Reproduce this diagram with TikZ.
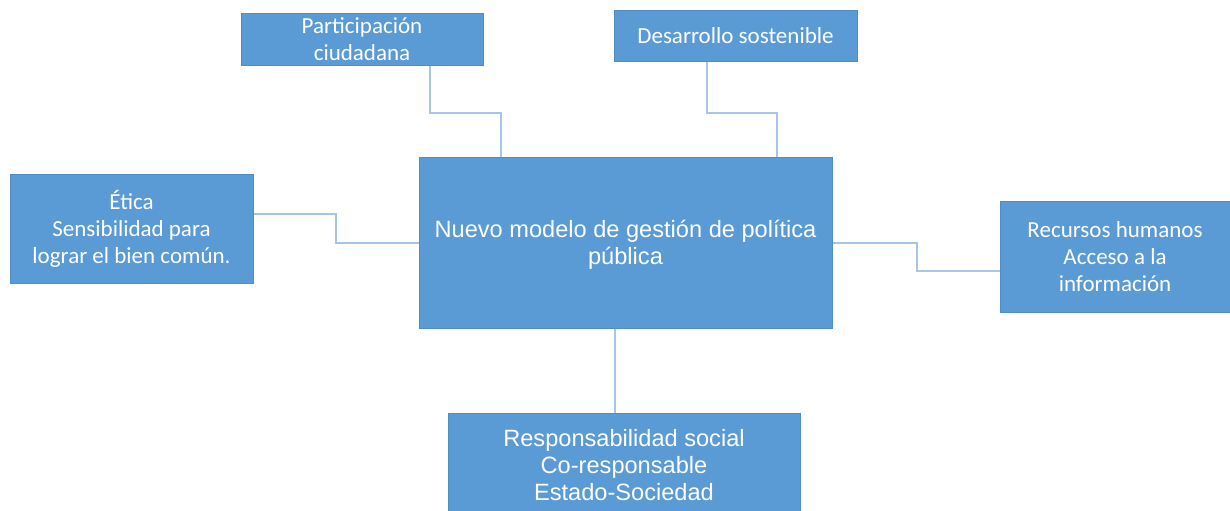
\documentclass[tikz,border=0pt]{standalone}
\usepackage{fontspec}
\setmainfont{Carlito}
\newfontfamily\arialfont{Liberation Sans}
\usetikzlibrary{calc}

\definecolor{boxblue}{RGB}{91,155,213}
\definecolor{boxline}{RGB}{80,140,198}
\definecolor{linkblue}{RGB}{166,198,232}

\begin{document}
\begin{tikzpicture}[x=0.5pt,y=-0.5pt,
  side node/.style={rectangle,fill=boxblue,draw=boxline,line width=0.5pt,text=white,align=center,
    font=\fontsize{11.5}{13.5}\selectfont,inner sep=2pt},
  main node/.style={side node,font=\arialfont\fontsize{11.8}{13.5}\selectfont},
  link/.style={draw=linkblue,line width=1pt}]
  \useasboundingbox (0,0) rectangle (1230,510);
  \clip (0,0) rectangle (1230,510);

  % the centre box and the five boxes around it
  \node[main node,minimum width=206.5pt,minimum height=85.5pt,text depth=0pt] (main) at (625.5,242.5) {\raisebox{7pt}{\parbox{200pt}{\centering Nuevo modelo de gestión de política\\pública}}};
  \node[side node,minimum width=121pt,minimum height=25.5pt] (part) at (362,39.5) {Participación\\ciudadana};
  \node[side node,minimum width=121.5pt,minimum height=25.5pt] (des) at (735.5,35.5) {Desarrollo sostenible};
  \node[side node,minimum width=121.5pt,minimum height=54.5pt] (etica) at (131.5,228.5) {Ética\\Sensibilidad para\\lograr el bien común.};
  \node[side node,minimum width=115pt,minimum height=55.5pt] (rec) at (1115,256.5) {Recursos humanos\\Acceso a la\\información};
  \node[main node,minimum width=176pt,minimum height=60pt,text depth=0pt] (resp) at (624,473) {\raisebox{23pt}{\parbox{170pt}{\centering Responsabilidad social\\Co-responsable\\Estado-Sociedad}}};

  \draw[link] ($(part.south)+(68,0)$) -- ++(0,47) -| ($(main.north)+(-124.5,0)$);
  \draw[link] ($(des.south)+(-28.5,0)$) -- ++(0,51) -| ($(main.north)+(151.5,0)$);
  \draw[link] ($(etica.east)+(0,-14.5)$) -- ++(82,0) |- (main.west);
  \draw[link] (main.east) -- ++(84,0) |- ($(rec.west)+(0,14.5)$);
  \draw[link] ($(main.south)+(-10.5,0)$) -- ($(resp.north)+(-9,0)$);
\end{tikzpicture}
\end{document}
